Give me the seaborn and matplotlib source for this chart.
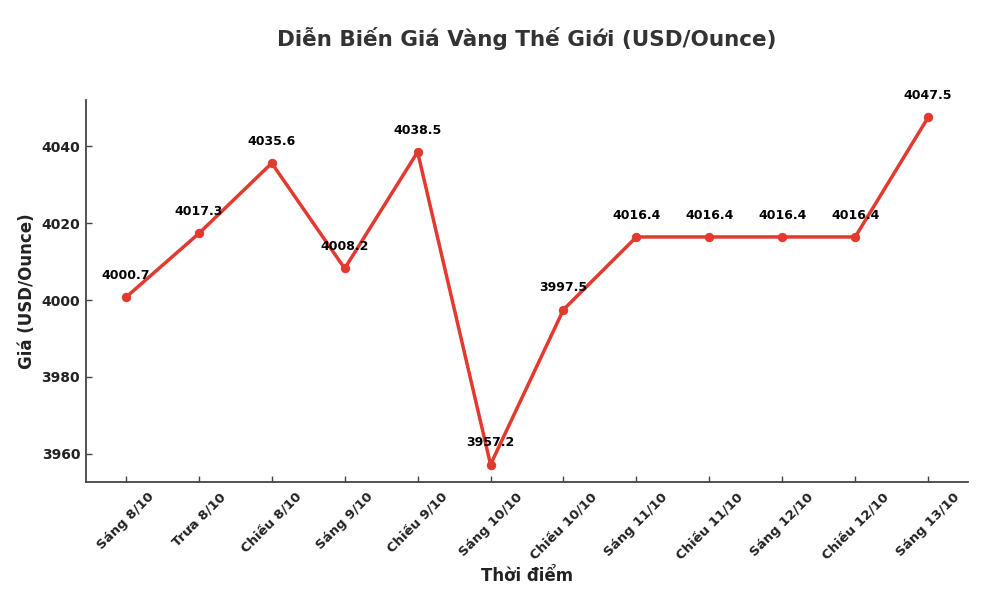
import matplotlib
matplotlib.use("Agg")
import matplotlib.pyplot as plt
import pandas as pd
import seaborn as sns

thoi_diem = [
    "Sáng 8/10", "Trưa 8/10", "Chiều 8/10", "Sáng 9/10", "Chiều 9/10",
    "Sáng 10/10", "Chiều 10/10", "Sáng 11/10", "Chiều 11/10", "Sáng 12/10",
    "Chiều 12/10", "Sáng 13/10",
]
gia = [4000.7, 4017.3, 4035.6, 4008.2, 4038.5, 3957.2, 3997.5,
       4016.4, 4016.4, 4016.4, 4016.4, 4047.5]

df = pd.DataFrame({"thoi_diem": thoi_diem, "gia": gia})
df["idx"] = range(len(df))

sns.set_theme(style="ticks")
plt.rcParams["font.family"] = ["DejaVu Sans"]

fig, ax = plt.subplots(figsize=(9.86, 5.92), dpi=100)
fig.subplots_adjust(left=0.087, right=0.982, top=0.831, bottom=0.186)

line_color = "#e23a2e"
sns.lineplot(data=df, x="idx", y="gia", ax=ax, color=line_color,
             linewidth=2.5, marker="o", markersize=6,
             markeredgecolor=line_color)

for x, y in zip(df["idx"], df["gia"]):
    ax.annotate(f"{y:.1f}", (x, y), textcoords="offset points",
                xytext=(0, 11), ha="center", va="bottom",
                fontsize=9, fontweight="bold", color="black")

ax.set_xticks(df["idx"])
ax.set_xticklabels(thoi_diem, rotation=45, fontsize=9.5,
                   fontweight="bold", color="#222222")
ax.set_yticks([3960, 3980, 4000, 4020, 4040])
for lbl in ax.get_yticklabels():
    lbl.set_fontweight("bold")
    lbl.set_fontsize(10)
    lbl.set_color("#222222")

ax.set_title("Diễn Biến Giá Vàng Thế Giới (USD/Ounce)", fontsize=15.5,
             fontweight="bold", color="#333333", pad=39)
ax.set_xlabel("Thời điểm", fontsize=12, fontweight="bold", color="#222222",
              labelpad=4)
ax.set_ylabel("Giá (USD/Ounce)", fontsize=12, fontweight="bold", color="#222222",
              labelpad=4)

sns.despine(ax=ax)
for s in ["left", "bottom"]:
    ax.spines[s].set_color("#444444")
    ax.spines[s].set_linewidth(1.3)
ax.tick_params(direction="in", length=4, width=1, colors="#444444")
ax.tick_params(axis="x", pad=6)
ax.tick_params(axis="y", pad=4)
for lbl in ax.get_xticklabels() + ax.get_yticklabels():
    lbl.set_color("#222222")

plt.savefig("out.png", dpi=100)
